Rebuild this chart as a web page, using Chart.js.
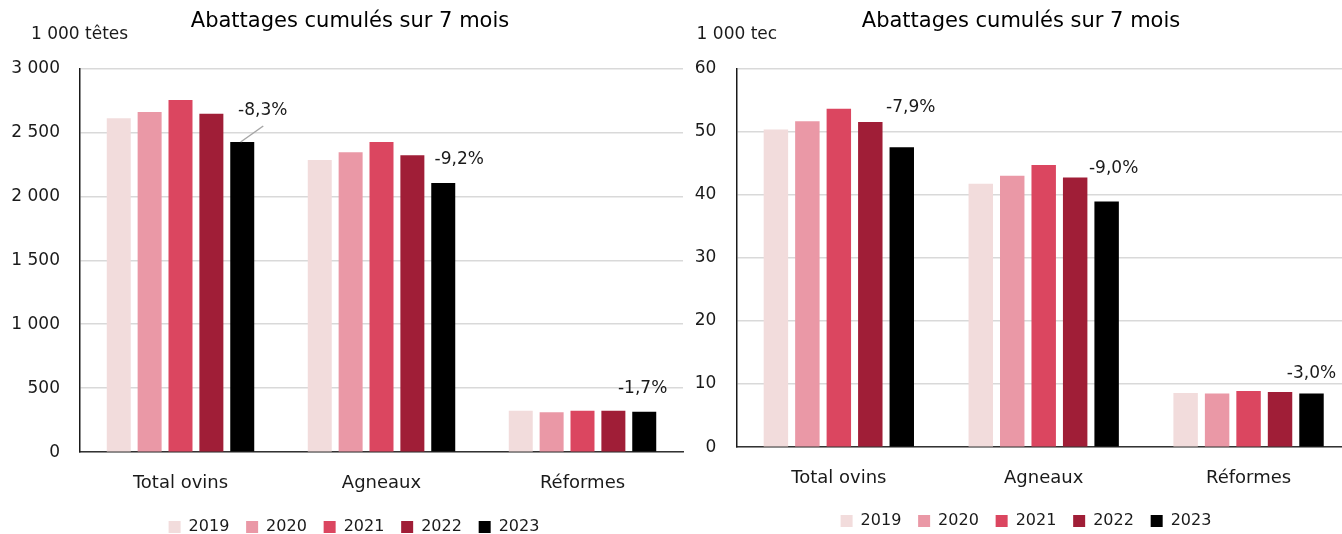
<!DOCTYPE html>
<html lang="fr">
<head>
<meta charset="utf-8">
<script src="https://cdn.jsdelivr.net/npm/chart.js@4.4.0/dist/chart.umd.min.js"></script>
<style>
  html, body { margin: 0; padding: 0; background: #fff; overflow: hidden; }
  #wrap { position: relative; width: 1342px; height: 534px; overflow: hidden; }
  .panel { position: absolute; top: 0; }
  #left { left: 0; }
  #right { left: 670px; }
</style>
</head>
<body>
<div id="wrap">
  <div class="panel" id="left"><canvas id="tetesChart" width="700" height="545"></canvas></div>
  <div class="panel" id="right"><canvas id="tecChart" width="700" height="539"></canvas></div>
</div>
<script>
// data
const categories = ['Total ovins', 'Agneaux', 'Réformes'];
const years = ['2019', '2020', '2021', '2022', '2023'];

// 1 000 têtes
const tetes2019 = [2609, 2284, 323];
const tetes2020 = [2659, 2344, 312];
const tetes2021 = [2752, 2424, 323];
const tetes2022 = [2645, 2320, 323];
const tetes2023 = [2424, 2104, 317];
const tetesVariation = ['-8,3%', '-9,2%', '-1,7%'];
const tetesTicks = ['0', '500', '1 000', '1 500', '2 000', '2 500', '3 000'];

// 1 000 tec
const tec2019 = [50.3, 41.7, 8.6];
const tec2020 = [51.6, 43.0, 8.5];
const tec2021 = [53.6, 44.7, 8.9];
const tec2022 = [51.5, 42.7, 8.75];
const tec2023 = [47.5, 38.9, 8.5];
const tecVariation = ['-7,9%', '-9,0%', '-3,0%'];
const tecTicks = ['0', '10', '20', '30', '40', '50', '60'];

const yearColors = ['#F2DCDC', '#EA98A6', '#DB4660', '#A01E37', '#000000'];
const FONT = '"DejaVu Sans", sans-serif';

Chart.defaults.font.family = FONT;
Chart.defaults.color = '#1a1a1a';

// percentage labels above the 2023 bars + unit label in the top left corner
const annotationsPlugin = {
    id: 'annotations',
    afterLayout(chart, args, opts) {
        // centre legend and title like the original panels
        chart.legend.left = opts.legendSpan[0];
        chart.legend.right = opts.legendSpan[1];
        chart.titleBlock.left = opts.titleSpan[0];
        chart.titleBlock.right = opts.titleSpan[1];
    },
    afterDatasetsDraw(chart, args, opts) {
        const ctx = chart.ctx;
        const meta = chart.getDatasetMeta(chart.data.datasets.length - 1);
        ctx.save();
        ctx.fillStyle = '#1a1a1a';
        ctx.font = '17px ' + FONT;
        ctx.textBaseline = 'middle';
        ctx.textAlign = 'center';
        opts.texts.forEach((t, i) => {
            const bar = meta.data[i];
            const off = opts.offsets[i];
            ctx.fillText(t, bar.x + off[0], bar.y + off[1]);
            const lead = opts.leaders[i];
            if (lead) {
                ctx.strokeStyle = '#a6a6a6';
                ctx.lineWidth = 1.5;
                ctx.beginPath();
                ctx.moveTo(bar.x + lead[0], bar.y + lead[1]);
                ctx.lineTo(bar.x + lead[2], bar.y + lead[3]);
                ctx.stroke();
            }
        });
        ctx.textAlign = 'left';
        ctx.fillText(opts.unit, opts.unitX, opts.unitY);
        ctx.restore();
    }
};

function makeChart(canvasId, series, cfg) {
    const ctx = document.getElementById(canvasId).getContext('2d');
    return new Chart(ctx, {
        type: 'bar',
        data: {
            labels: categories,
            datasets: years.map((y, i) => ({
                label: y,
                data: series[i],
                backgroundColor: yearColors[i],
                borderWidth: 0,
                categoryPercentage: 0.768,
                barPercentage: 0.777
            }))
        },
        options: {
            responsive: false,
            animation: false,
            layout: {
                padding: { left: 0, right: cfg.padRight, top: 0, bottom: 0 }
            },
            scales: {
                x: {
                    grid: { display: false },
                    border: { display: true, color: '#333333', width: 1.5 },
                    ticks: { font: { size: 18 }, color: '#1a1a1a', padding: 12.5, maxRotation: 0 },
                    afterFit: (scale) => { scale.height = cfg.xHeight; }
                },
                y: {
                    min: 0,
                    max: cfg.max,
                    grid: { color: '#d9d9d9', lineWidth: 1.5, drawTicks: false },
                    border: { display: true, color: '#1a1a1a', width: 1.5 },
                    ticks: {
                        stepSize: cfg.step,
                        padding: 20,
                        font: { size: 17 },
                        color: '#1a1a1a',
                        callback: (v, idx) => cfg.tickLabels[idx]
                    },
                    afterFit: (scale) => { scale.width = cfg.yWidth; }
                }
            },
            plugins: {
                title: {
                    display: true,
                    text: 'Abattages cumulés sur 7 mois',
                    color: '#000',
                    font: { size: 21, weight: 'normal' },
                    padding: { top: 9, bottom: 34.1 }
                },
                legend: {
                    position: 'bottom',
                    labels: {
                        boxWidth: 12,
                        boxHeight: 12,
                        padding: 16.8,
                        color: '#1a1a1a',
                        font: { size: 16 }
                    }
                },
                tooltip: { enabled: false },
                annotations: {
                    texts: cfg.texts,
                    offsets: cfg.offsets,
                    leaders: cfg.leaders,
                    unit: cfg.unit,
                    unitX: cfg.unitX,
                    unitY: 34.5,
                    legendSpan: cfg.legendSpan,
                    titleSpan: cfg.titleSpan
                }
            }
        },
        plugins: [annotationsPlugin]
    });
}

makeChart('tetesChart', [tetes2019, tetes2020, tetes2021, tetes2022, tetes2023], {
    max: 3000, step: 500, tickLabels: tetesTicks,
    padRight: 17, yWidth: 80, xHeight: 50,
    legendSpan: [25, 683], titleSpan: [0, 700],
    texts: tetesVariation,
    offsets: [[20.5, -31], [16, -23.7], [-1.6, -23.4]],
    leaders: [[-1.6, 0, 21, -16], null, null],
    unit: '1 000 têtes', unitX: 31
});

makeChart('tecChart', [tec2019, tec2020, tec2021, tec2022, tec2023], {
    max: 60, step: 10, tickLabels: tecTicks,
    padRight: 19, yWidth: 66.4, xHeight: 49,
    legendSpan: [31, 681], titleSpan: [0, 702],
    texts: tecVariation,
    offsets: [[9, -39.5], [7, -33.4], [0, -20.3]],
    leaders: [null, null, null],
    unit: '1 000 tec', unitX: 26.6
});
</script>
</body>
</html>
